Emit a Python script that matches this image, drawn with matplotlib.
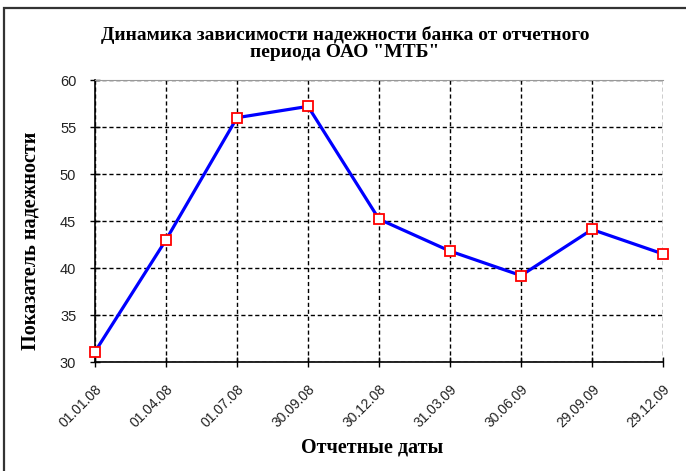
import matplotlib.pyplot as plt
from matplotlib.patches import Rectangle

dates = ['01.01.08', '01.04.08', '01.07.08', '30.09.08', '30.12.08',
         '31.03.09', '30.06.09', '29.09.09', '29.12.09']
values = [31.1, 43.0, 56.0, 57.2, 45.2, 41.8, 39.2, 44.1, 41.5]
y_ticks = [30, 35, 40, 45, 50, 55, 60]

title = 'Динамика зависимости надежности банка от отчетного\nпериода ОАО "МТБ"'
x_label = 'Отчетные даты'
y_label = 'Показатель надежности'

serif = ['Liberation Serif', 'DejaVu Serif']
sans = ['Liberation Sans', 'DejaVu Sans']

fig = plt.figure(figsize=(6.86, 4.71), dpi=100)
ax = fig.add_axes([0.1385, 0.2314, 0.828, 0.5986])

x = list(range(len(dates)))
ax.plot(x, values, color='#0000ff', lw=2.3, marker='s', markersize=6.5,
        markerfacecolor='white', markeredgecolor='#ff0000', markeredgewidth=1.3,
        zorder=5, clip_on=False)

ax.set_xlim(0, len(dates) - 1)
ax.set_ylim(30, 60)
ax.set_yticks(y_ticks)
ax.set_xticks(x)
ax.set_xticklabels(dates, rotation=45, ha='right', rotation_mode='anchor',
                   family=sans, fontsize=10, color='#222222')
ax.set_yticklabels([str(v) for v in y_ticks], family=sans, fontsize=10.5,
                   color='#222222')
ax.tick_params(axis='both', direction='inout', length=7, width=1, color='black')
ax.tick_params(axis='y', pad=10)
ax.tick_params(axis='x', pad=11)

ax.grid(True, color='black', linestyle=(0, (3, 2)), lw=1)
ax.set_axisbelow(True)

ax.spines['left'].set_color('black')
ax.spines['bottom'].set_color('black')
ax.spines['left'].set_linewidth(1.2)
ax.spines['bottom'].set_linewidth(1.2)
ax.spines['top'].set_color('#999999')
ax.spines['right'].set_visible(False)

fig.text(0.503, 0.908, title, ha='center', va='center', family=serif,
         fontweight='bold', fontsize=14, linespacing=1.0)
fig.text(0.543, 0.049, x_label, ha='center', va='center', family=serif,
         fontweight='bold', fontsize=14.5)
fig.text(0.044, 0.488, y_label, ha='center', va='center', rotation=90,
         family=serif, fontweight='bold', fontsize=14.5)

# chart frame
fig.patches.append(Rectangle((4 / 686, -0.05), 1.0, 1.033, transform=fig.transFigure,
                             fill=False, edgecolor='#333333', lw=1.6))

fig.savefig('out.png', dpi=100)
